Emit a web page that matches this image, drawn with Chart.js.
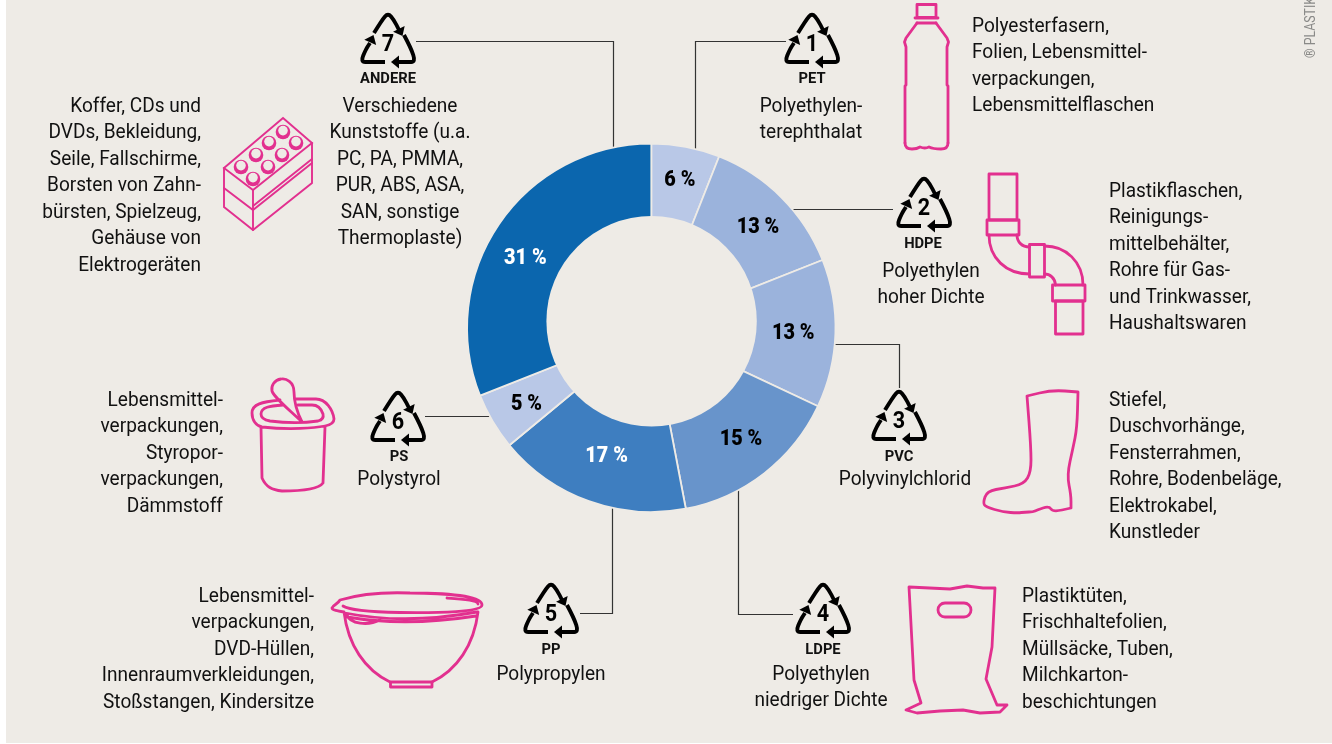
<!DOCTYPE html>
<html lang="de">
<head>
<meta charset="utf-8">
<title>Kunststoffsorten</title>
<script src="https://cdn.jsdelivr.net/npm/chart.js@4/dist/chart.umd.min.js"></script>
<style>
  html, body { margin: 0; padding: 0; background: #fff; }
  canvas { display: block; }
</style>
</head>
<body>
<canvas id="plasticChart" width="1332" height="744"></canvas>
<script>
// Chart data
const categories = ['PET', 'HDPE', 'PVC', 'LDPE', 'PP', 'PS', 'ANDERE'];
const shares = [6, 13, 13, 15, 17, 5, 31];
const sliceColors = ['#b9c8e7', '#9bb3dc', '#9bb3dc', '#6894cb', '#3e7ec0', '#b9c8e7', '#0b66ae'];
const shareTextColors = ['#000', '#000', '#000', '#000', '#fff', '#000', '#fff'];
const shareRadius = [152, 148, 142, 143, 135, 145, 145];
const shareNudge = [[0, 2], [2, 4], [0, 1], [2, -1], [1, 2], [0, 3], [-6, 12]];

const plasticNames = [
    ['Polyethylen-', 'terephthalat'],
    ['Polyethylen', 'hoher Dichte'],
    ['Polyvinylchlorid'],
    ['Polyethylen', 'niedriger Dichte'],
    ['Polypropylen'],
    ['Polystyrol'],
    ['Verschiedene', 'Kunststoffe (u.a.', 'PC, PA, PMMA,', 'PUR, ABS, ASA,', 'SAN, sonstige', 'Thermoplaste)']
];
const plasticUses = [
    ['Polyesterfasern,', 'Folien, Lebensmittel-', 'verpackungen,', 'Lebensmittelflaschen'],
    ['Plastikflaschen,', 'Reinigungs-', 'mittelbehälter,', 'Rohre für Gas-', 'und Trinkwasser,', 'Haushaltswaren'],
    ['Stiefel,', 'Duschvorhänge,', 'Fensterrahmen,', 'Rohre, Bodenbeläge,', 'Elektrokabel,', 'Kunstleder'],
    ['Plastiktüten,', 'Frischhaltefolien,', 'Müllsäcke, Tuben,', 'Milchkarton-', 'beschichtungen'],
    ['Lebensmittel-', 'verpackungen,', 'DVD-Hüllen,', 'Innenraumverkleidungen,', 'Stoßstangen, Kindersitze'],
    ['Lebensmittel-', 'verpackungen,', 'Styropor-', 'verpackungen,', 'Dämmstoff'],
    ['Koffer, CDs und', 'DVDs, Bekleidung,', 'Seile, Fallschirme,', 'Borsten von Zahn-', 'bürsten, Spielzeug,', 'Gehäuse von', 'Elektrogeräten']
];
const creditText = '® PLASTIK';

// Layout of the annotations around the ring
const symbolPos = [[812, 44], [924, 208], [899, 421], [823, 614], [551, 614], [398, 422], [388, 44]];
const codePos = [[812, 79], [923, 244], [899, 457], [823, 650], [551, 650], [399, 457], [388, 79]];
const namePos = [[811, 106.5], [931, 271.5], [905, 479.5], [821, 674.5], [551, 674.5], [399, 479.5], [400, 106.5]];
const usePos = [
    [972, 26.5, 'left'], [1109, 191.5, 'left'], [1109, 400.5, 'left'], [1022, 596.5, 'left'],
    [314, 596.5, 'right'], [223, 400.5, 'right'], [201, 106.5, 'right']
];
const connectors = [
    [[786, 41.5], [695.5, 41.5], [695.5, 160]],
    [[893, 209.5], [780, 209.5]],
    [[830, 344.5], [899.5, 344.5], [899.5, 388]],
    [[738.5, 490], [738.5, 614.5], [793, 614.5]],
    [[612.5, 505], [612.5, 613.5], [580, 613.5]],
    [[425, 416.5], [495, 416.5]],
    [[416, 41.5], [613.5, 41.5], [613.5, 150]]
];

const BG = '#eeebe6';
const PINK = '#e2308f';
const FONT = 'Roboto, "Liberation Sans", sans-serif';
const LINE_H = 26.55;

// The reference face is a condensed one, so the glyphs get squeezed sideways
function squeezedText(ctx, text, x, y, sx) {
    ctx.save();
    ctx.translate(x, y);
    ctx.scale(sx, 1);
    ctx.fillText(text, 0, 0);
    ctx.restore();
}

function textLines(ctx, lines, x, y, align) {
    ctx.textAlign = align;
    ctx.textBaseline = 'middle';
    lines.forEach((line, i) => squeezedText(ctx, line, x, y + i * LINE_H, 0.93));
}

// Path through points, corners smoothed with quadratic curves
function smooth(ctx, pts, closed) {
    ctx.beginPath();
    if (closed) {
        const last = pts[pts.length - 1];
        ctx.moveTo((last[0] + pts[0][0]) / 2, (last[1] + pts[0][1]) / 2);
    } else {
        ctx.moveTo(pts[0][0], pts[0][1]);
    }
    const n = pts.length;
    for (let i = closed ? 0 : 1; i < (closed ? n : n - 1); i++) {
        const p = pts[i], q = pts[(i + 1) % n];
        ctx.quadraticCurveTo(p[0], p[1], (p[0] + q[0]) / 2, (p[1] + q[1]) / 2);
    }
    if (closed) ctx.closePath();
    else ctx.lineTo(pts[n - 1][0], pts[n - 1][1]);
    ctx.stroke();
}

function poly(ctx, pts, closed) {
    ctx.beginPath();
    pts.forEach((p, i) => i ? ctx.lineTo(p[0], p[1]) : ctx.moveTo(p[0], p[1]));
    if (closed) ctx.closePath();
    ctx.stroke();
}

function rect(ctx, x0, y0, x1, y1) {
    ctx.strokeRect(x0, y0, x1 - x0, y1 - y0);
}

// Recycling triangle, (cx, cy) is the centre of the digit
function recycleSymbol(ctx, cx, cy, digit) {
    const P = (x, y) => [cx + x, cy + y];
    const arrow = (tip, angle) => {
        ctx.save();
        ctx.translate(cx + tip[0], cy + tip[1]);
        ctx.rotate(angle);
        ctx.beginPath();
        ctx.moveTo(0, 0);
        ctx.lineTo(-8, -6.5);
        ctx.lineTo(-8, 6.5);
        ctx.closePath();
        ctx.fill();
        ctx.restore();
    };
    ctx.save();
    ctx.strokeStyle = '#000';
    ctx.fillStyle = '#000';
    ctx.lineWidth = 3.9;
    ctx.lineJoin = 'round';
    ctx.lineCap = 'butt';
    smooth(ctx, [P(-14, -11), P(-6, -24), P(0, -31), P(6, -24), P(11, -14)], false);
    arrow([14.5, -8], 1.1);
    smooth(ctx, [P(16, -9), P(23, 4), P(27.5, 18), P(19, 18), P(8, 18)], false);
    arrow([3, 18], Math.PI);
    smooth(ctx, [P(-3, 18), P(-18, 18), P(-27.5, 18), P(-22, 5), P(-18, -1)], false);
    arrow([-14.5, -9], -1.15);
    ctx.font = 'bold 24px ' + FONT;
    ctx.textAlign = 'center';
    ctx.textBaseline = 'middle';
    squeezedText(ctx, digit, cx, cy + 1, 0.9);
    ctx.restore();
}

function drawBottle(ctx) {
    rect(ctx, 917, 4.5, 936, 17.5);
    poly(ctx, [[915, 18], [938, 18]]);
    poly(ctx, [[917, 23], [936, 23]]);
    poly(ctx, [[917, 23], [906, 38], [904.5, 42], [906, 47], [906, 85], [905, 86], [905, 143]]);
    poly(ctx, [[936, 23], [947, 38], [948.5, 42], [947, 47], [947, 85], [948, 86], [948, 143]]);
    ctx.beginPath();
    ctx.moveTo(905, 143);
    ctx.quadraticCurveTo(905, 149, 912, 149);
    ctx.quadraticCurveTo(917, 149, 920, 147);
    ctx.quadraticCurveTo(925, 149, 929, 147);
    ctx.quadraticCurveTo(933, 149, 941, 149);
    ctx.quadraticCurveTo(948, 149, 948, 143);
    ctx.stroke();
}

function drawPipe(ctx) {
    rect(ctx, 989, 174, 1017, 220);
    rect(ctx, 987, 220, 1019, 235);
    rect(ctx, 1029.5, 244.5, 1044.5, 277);
    rect(ctx, 1052.5, 285, 1085, 301);
    rect(ctx, 1055.5, 301, 1083, 334);
    ctx.beginPath();
    ctx.moveTo(989, 235);
    ctx.bezierCurveTo(989, 258, 1006, 274, 1029.5, 274);
    ctx.moveTo(1017, 235);
    ctx.bezierCurveTo(1017, 242, 1022, 247, 1029.5, 247);
    ctx.moveTo(1044.5, 246);
    ctx.bezierCurveTo(1066, 246, 1083, 262, 1083, 285);
    ctx.moveTo(1044.5, 274);
    ctx.bezierCurveTo(1050, 274, 1055, 278, 1055.5, 285);
    ctx.stroke();
}

function drawBoot(ctx) {
    smooth(ctx, [[1027, 396], [1027, 396], [1052, 390], [1078, 392], [1078, 392], [1077, 428], [1073, 448], [1067, 475],
        [1071, 495], [1071, 508], [1071, 508], [1053, 512], [1049, 506], [1037, 510], [1033, 512], [1025, 512], [1018, 513], [1003, 512],
        [986, 507], [983, 503], [987, 491], [1005, 488], [1024, 484], [1031, 472], [1031, 448]], true);
}

function drawBag(ctx) {
    poly(ctx, [[909, 587], [950, 589], [967, 586], [983, 588], [995, 588], [992, 647], [986, 679], [997, 705],
        [1007, 705], [1000, 712], [980, 713], [963, 710], [940, 711], [917, 713], [906, 710], [921, 703], [914, 680]], true);
    ctx.beginPath();
    ctx.roundRect(938, 603, 33, 14, 7);
    ctx.stroke();
}

function drawBowl(ctx) {
    ctx.beginPath();
    // lid, outer edge
    ctx.moveTo(344, 612);
    ctx.bezierCurveTo(338, 611, 332, 610, 332, 608);
    ctx.bezierCurveTo(333, 605, 338, 604, 340, 600);
    ctx.bezierCurveTo(360, 594, 385, 592, 410, 593);
    ctx.bezierCurveTo(445, 593, 482, 596, 482, 605);
    ctx.bezierCurveTo(482, 612, 440, 613, 400, 612.5);
    ctx.bezierCurveTo(375, 612, 350, 611, 343, 606);
    // lid, inner lip
    ctx.moveTo(447, 598);
    ctx.bezierCurveTo(462, 599, 478, 600, 478, 604);
    // bowl rim and walls
    ctx.moveTo(345, 613);
    ctx.quadraticCurveTo(405, 625, 477, 612);
    ctx.moveTo(347, 617);
    ctx.quadraticCurveTo(405, 627, 476, 616);
    ctx.moveTo(347, 615);
    ctx.bezierCurveTo(350, 624, 368, 626, 380, 620);
    ctx.moveTo(344, 612);
    ctx.bezierCurveTo(348, 645, 365, 670, 390, 682);
    ctx.moveTo(478, 612);
    ctx.bezierCurveTo(474, 645, 457, 670, 432, 682);
    ctx.stroke();
    rect(ctx, 390.5, 682, 432, 687);
}

function drawYogurt(ctx) {
    ctx.beginPath();
    // cup
    ctx.moveTo(261, 427);
    ctx.lineTo(262, 478);
    ctx.bezierCurveTo(266, 487, 272, 490, 282, 491);
    ctx.bezierCurveTo(295, 491, 318, 490, 323, 483);
    ctx.lineTo(325, 427);
    // rim
    ctx.moveTo(280, 400);
    ctx.bezierCurveTo(262, 402, 252, 404, 252, 413);
    ctx.bezierCurveTo(252, 420, 256, 426, 262, 427);
    ctx.bezierCurveTo(290, 430, 315, 428, 325, 426);
    ctx.bezierCurveTo(330, 425, 334, 423, 334, 419);
    ctx.bezierCurveTo(333, 410, 326, 399, 316, 399);
    ctx.lineTo(295, 399);
    ctx.moveTo(283, 405);
    ctx.bezierCurveTo(270, 406, 261, 407, 261, 414);
    ctx.bezierCurveTo(261, 418, 264, 420, 270, 421);
    ctx.bezierCurveTo(285, 423, 305, 423, 318, 421);
    ctx.bezierCurveTo(322, 420, 324, 418, 323, 414);
    ctx.bezierCurveTo(321, 408, 318, 405, 312, 405);
    ctx.lineTo(298, 405);
    // peeled lid
    ctx.moveTo(302, 422);
    ctx.bezierCurveTo(296, 410, 294, 402, 294, 392);
    ctx.bezierCurveTo(294, 382, 286, 378, 281, 379);
    ctx.bezierCurveTo(274, 380, 271, 386, 272, 391);
    ctx.bezierCurveTo(274, 397, 285, 406, 302, 422);
    ctx.stroke();
}

function drawBrick(ctx) {
    const lw = ctx.lineWidth;
    ctx.lineWidth = 1.9;
    ctx.lineJoin = 'miter';
    poly(ctx, [[283, 118], [312, 143], [253, 190], [224, 168]], true);
    poly(ctx, [[224, 168], [224, 188], [253, 210], [312, 163], [312, 143]]);
    poly(ctx, [[253, 190], [253, 210]]);
    poly(ctx, [[253, 206], [312, 159]]);
    poly(ctx, [[224, 188], [224, 207], [253, 230], [312, 183], [312, 163]]);
    poly(ctx, [[253, 210], [253, 230]]);
    const studs = [[283, 132], [269, 143], [256, 155], [241, 167], [296, 143], [282, 155], [268, 167], [253, 179]];
    studs.forEach(s => {
        ctx.fillStyle = PINK;
        ctx.beginPath();
        ctx.arc(s[0], s[1], 7.3, 0, Math.PI * 2);
        ctx.fill();
        ctx.fillStyle = BG;
        ctx.beginPath();
        ctx.arc(s[0], s[1] - 1.4, 4.8, 0, Math.PI * 2);
        ctx.fill();
    });
    ctx.lineWidth = lw;
    ctx.lineJoin = 'round';
}

// Everything around the ring is drawn on the chart canvas
const annotationPlugin = {
    id: 'annotations',
    beforeDraw(chart) {
        const ctx = chart.ctx;
        ctx.save();
        ctx.fillStyle = '#fff';
        ctx.fillRect(0, 0, 1332, 744);
        ctx.fillStyle = BG;
        ctx.fillRect(6, 0, 1326, 743);
        ctx.restore();
    },
    beforeDatasetsDraw(chart) {
        const ctx = chart.ctx;
        ctx.save();
        ctx.strokeStyle = '#333';
        ctx.lineWidth = 1.2;
        connectors.forEach(c => poly(ctx, c));
        ctx.restore();
    },
    afterDatasetsDraw(chart) {
        const ctx = chart.ctx;
        const arcs = chart.getDatasetMeta(0).data;

        ctx.save();
        // the hole of the ring sits a little above its centre
        ctx.fillStyle = BG;
        ctx.beginPath();
        ctx.arc(651.6, 321.3, 105.2, 0, Math.PI * 2);
        ctx.fill();

        // share labels
        ctx.font = '900 22.5px ' + FONT;
        ctx.textAlign = 'center';
        ctx.textBaseline = 'middle';
        arcs.forEach((arc, i) => {
            const mid = (arc.startAngle + arc.endAngle) / 2;
            const x = arc.x + Math.cos(mid) * shareRadius[i] + shareNudge[i][0];
            const y = arc.y + Math.sin(mid) * shareRadius[i] + shareNudge[i][1];
            ctx.fillStyle = shareTextColors[i];
            squeezedText(ctx, shares[i] + ' %', x, y, 0.88);
        });

        categories.forEach((code, i) => {
            recycleSymbol(ctx, symbolPos[i][0], symbolPos[i][1], String(i + 1));
            ctx.fillStyle = '#111';
            ctx.font = 'bold 15.5px ' + FONT;
            ctx.textAlign = 'center';
            ctx.textBaseline = 'middle';
            squeezedText(ctx, code, codePos[i][0], codePos[i][1], 0.95);
            ctx.font = '20.5px ' + FONT;
            textLines(ctx, plasticNames[i], namePos[i][0], namePos[i][1], 'center');
            textLines(ctx, plasticUses[i], usePos[i][0], usePos[i][1], usePos[i][2]);
        });

        // pink icons
        ctx.strokeStyle = PINK;
        ctx.lineWidth = 2.8;
        ctx.lineJoin = 'round';
        ctx.lineCap = 'round';
        drawBottle(ctx);
        drawPipe(ctx);
        drawBoot(ctx);
        drawBag(ctx);
        drawBowl(ctx);
        drawYogurt(ctx);
        drawBrick(ctx);

        // credit line
        ctx.translate(1315, 58);
        ctx.rotate(-Math.PI / 2);
        ctx.fillStyle = '#8a8a88';
        ctx.font = '15px ' + FONT;
        ctx.textAlign = 'left';
        ctx.textBaseline = 'alphabetic';
        squeezedText(ctx, creditText, 0, 0, 0.82);
        ctx.restore();
    }
};

new Chart(document.getElementById('plasticChart'), {
    type: 'doughnut',
    data: {
        labels: categories,
        datasets: [{
            data: shares,
            backgroundColor: sliceColors,
            borderColor: BG,
            borderWidth: 1.8,
            hoverOffset: 0
        }]
    },
    options: {
        responsive: false,
        animation: false,
        radius: 184.2,
        cutout: 96,
        layout: { padding: { left: 0, top: 0, right: 29.4, bottom: 88.4 } },
        plugins: { legend: { display: false }, tooltip: { enabled: false } }
    },
    plugins: [annotationPlugin]
});
</script>
</body>
</html>
